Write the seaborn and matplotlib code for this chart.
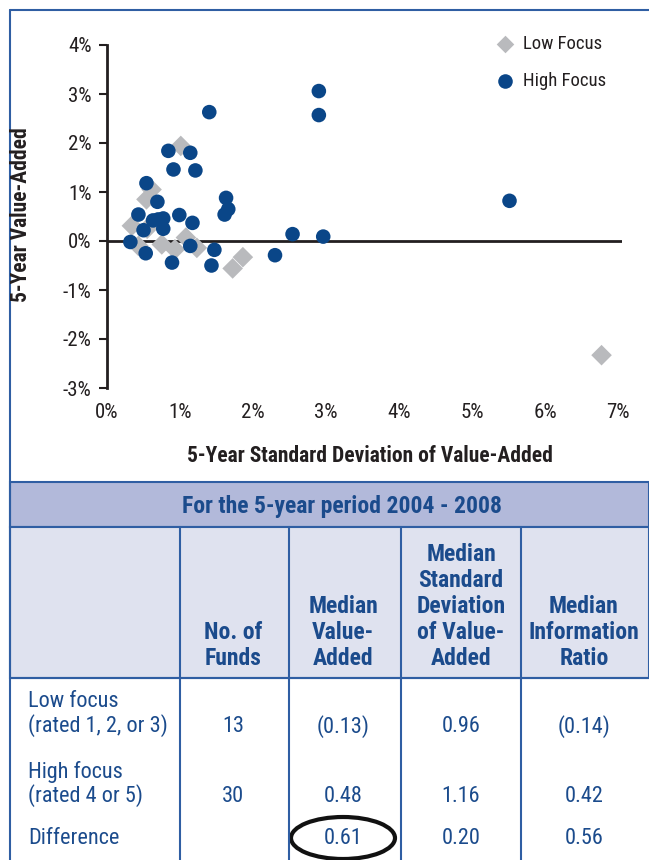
import numpy as np
import pandas as pd
import matplotlib
matplotlib.use("Agg")
import matplotlib.pyplot as plt
from matplotlib import font_manager
from matplotlib.patches import Rectangle, Ellipse
import seaborn as sns

# scatter values (percent)
low_sd = [1.01, 0.61, 0.54, 0.34, 0.75, 0.93, 1.08, 1.23, 0.43, 1.86, 1.72, 6.77, 0.55]
low_va = [1.94, 1.05, 0.85, 0.31, -0.07, -0.17, 0.07, -0.14, -0.10, -0.33, -0.56, -2.33, 0.25]
high_sd = [1.40, 0.84, 1.14, 0.91, 1.21, 0.54, 0.69, 1.63, 1.66, 1.61, 0.43, 0.63, 0.77, 0.99,
           1.17, 0.50, 0.77, 0.32, 0.53, 1.14, 0.89, 1.47, 1.43, 2.30, 2.54, 2.96, 2.90, 2.90,
           5.51, 0.70]
high_va = [2.63, 1.84, 1.80, 1.46, 1.44, 1.18, 0.80, 0.88, 0.65, 0.54, 0.54, 0.42, 0.46, 0.53,
           0.37, 0.22, 0.25, -0.02, -0.25, -0.10, -0.44, -0.18, -0.50, -0.29, 0.14, 0.09, 3.06,
           2.57, 0.82, 0.44]

x_ticks = [0, 1, 2, 3, 4, 5, 6, 7]
y_ticks = [-3, -2, -1, 0, 1, 2, 3, 4]

table_title = "For the 5-year period 2004 - 2008"
col_headers = ["No. of\nFunds", "Median\nValue-\nAdded", "Median\nStandard\nDeviation\nof Value-\nAdded",
               "Median\nInformation\nRatio"]
row_labels = ["Low focus\n(rated 1, 2, or 3)", "High focus\n(rated 4 or 5)", "Difference"]
n_funds = ["13", "30", ""]
med_va = ["(0.13)", "0.48", "0.61"]
med_sd = ["0.96", "1.16", "0.20"]
med_ir = ["(0.14)", "0.42", "0.56"]

BLUE = "#0a4688"
GREY = "#b9babd"
TXT = "#1b4b8c"
LINE = "#2f5ea3"
DARK = "#231f20"

sns.set_theme(style="white")

# pick a narrow face if one is installed
names = {f.name for f in font_manager.fontManager.ttflist}
narrow = [n for n in ["Liberation Sans Narrow", "Roboto Condensed", "Open Sans Condensed"] if n in names]
plt.rcParams["font.family"] = narrow + ["DejaVu Sans"]
plt.rcParams["font.stretch"] = "condensed"

df = pd.DataFrame({
    "sd": low_sd + high_sd,
    "va": low_va + high_va,
    "group": ["Low Focus"] * len(low_sd) + ["High Focus"] * len(high_sd),
})

fig = plt.figure(figsize=(6.49, 8.60), dpi=100)

# background canvas in pixel coordinates for frame and table
bg = fig.add_axes([0, 0, 1, 1], zorder=0)
bg.set_xlim(0, 649)
bg.set_ylim(860, 0)
bg.axis("off")

ax = fig.add_axes([107 / 649, 1 - 388 / 860, (622 - 107) / 649, (388 - 45) / 860], zorder=2)
ax.patch.set_alpha(0)

sns.scatterplot(data=df, x="sd", y="va", hue="group", style="group",
                palette={"Low Focus": GREY, "High Focus": BLUE},
                markers={"Low Focus": "D", "High Focus": "o"},
                s=110, linewidth=0, ax=ax, legend=False, zorder=3)

ax.axhline(0, color=DARK, lw=2, zorder=2)
ax.set_xlim(0, 7.05)
ax.set_ylim(-3, 4)
ax.set_xticks(x_ticks)
ax.set_xticklabels([f"{v}%" for v in x_ticks])
ax.set_yticks(y_ticks)
ax.set_yticklabels([f"{v}%" for v in y_ticks])
for s in ["top", "right", "bottom"]:
    ax.spines[s].set_visible(False)
ax.spines["left"].set_color(DARK)
ax.spines["left"].set_linewidth(2)
ax.tick_params(axis="y", left=True, length=6, width=1.5, color=DARK, pad=5, labelsize=15,
               labelcolor=DARK)
ax.tick_params(axis="x", bottom=False, length=0, pad=11, labelsize=15, labelcolor=DARK)
ax.set_xlabel("5-Year Standard Deviation of Value-Added", fontsize=15.5, fontweight="bold",
              color=DARK)
ax.set_ylabel("5-Year Value-Added", fontsize=15.5, fontweight="bold", color=DARK)
ax.yaxis.set_label_coords(-0.145, 0.505)
ax.xaxis.set_label_coords(0.51, -0.165)

# legend
ax.scatter([], [], marker="D", s=80, color=GREY, linewidth=0, label="Low Focus")
ax.scatter([], [], marker="o", s=110, color=BLUE, linewidth=0, label="High Focus")
ax.legend(loc="upper left", bbox_to_anchor=(0.721, 1.05), frameon=False, fontsize=13.5,
          handletextpad=0.0, labelspacing=1.0, borderaxespad=0)
for t in ax.get_legend().get_texts():
    t.set_color(DARK)

# frame around the figure
bg.plot([10, 10], [10, 860], color=LINE, lw=1.5)
bg.plot([10, 649], [10, 10], color=LINE, lw=1.5)

# table
bg.add_patch(Rectangle((10, 482), 639, 45, facecolor="#b2b9da", edgecolor=LINE, lw=1.5))
bg.text(342, 506, table_title, ha="center", va="center", fontsize=17, fontweight="bold", color=TXT)
bg.add_patch(Rectangle((10, 527), 639, 151, facecolor="#dfe2ef", edgecolor=LINE, lw=1.5))
bg.plot([10, 649], [678, 678], color=LINE, lw=1.5)
for xd in [180, 289, 401, 521]:
    bg.plot([xd, xd], [527, 860], color=LINE, lw=1.5)

col_x = [233, 343, 461, 584]
for cx, h in zip(col_x, col_headers):
    bg.text(cx, 670, h, ha="center", va="bottom", fontsize=17, fontweight="bold", color=TXT,
            linespacing=1.17)

row_y = [714, 784, 839]
for ry, lab in zip(row_y, row_labels):
    bg.text(28, ry, lab, ha="left", va="center", fontsize=16, color=TXT, linespacing=1.08)
for values, cx in zip([n_funds, med_va, med_sd, med_ir], col_x):
    for ry, v, lab in zip(row_y, values, row_labels):
        yy = ry + 13 if "\n" in lab else ry
        bg.text(cx, yy, v, ha="center", va="center", fontsize=16, color=TXT)

bg.add_patch(Ellipse((343, 838), 104, 42, fill=False, edgecolor="#111111", lw=3))

fig.savefig("out.png", dpi=100)
